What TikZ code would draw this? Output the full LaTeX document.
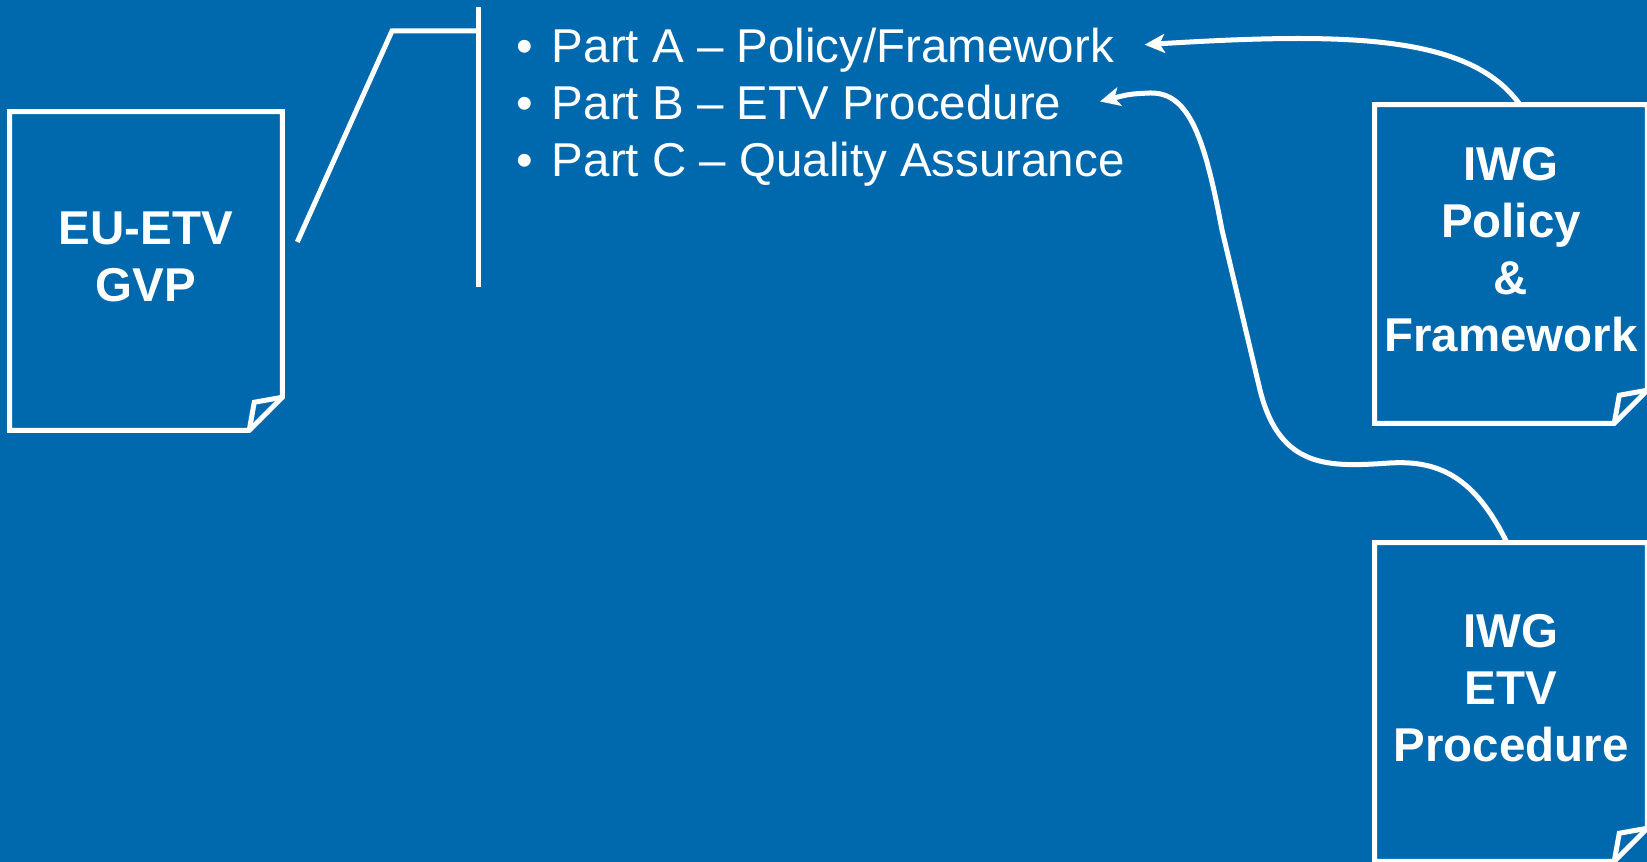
\documentclass[tikz,border=0pt]{standalone}
\usepackage{fontspec}
\setmainfont{Liberation Sans}
\usetikzlibrary{arrows.meta}
\definecolor{bluslide}{RGB}{0,104,172}

% contorno di un foglio con l'angolo in basso a destra piegato
\newcommand{\foglio}[1]{%
  \draw[bordo] (#1.north west) -- (#1.north east) -- ([yshift=\piega]#1.south east)
    -- ([xshift=-\piega]#1.south east) -- (#1.south west) -- cycle;
  \draw[bordo] ([xshift=-\piega]#1.south east) -- ([xshift=-0.28cm,yshift=0.28cm]#1.south east)
    -- ([yshift=\piega]#1.south east);
}

\begin{document}
\begin{tikzpicture}[x=0.01cm, y=-0.01cm,
    >={Stealth[length=0.2cm, width=0.19cm, inset=0.05cm]},
    bordo/.style={draw=white, line width=0.05cm},
    pagina/.style={minimum width=2.71cm, minimum height=3.17cm, inner sep=0pt},
    titolo/.style={text=white, align=center, font=\fontsize{13.5}{16.2}\selectfont\bfseries},
    voce/.style={text=white, anchor=base west, inner sep=0pt, text height=0.36cm,
      text depth=0pt, font=\fontsize{13.5}{16.2}\selectfont},
    freccia/.style={->, draw=white, line width=0.05cm}]
    % --- Impostazioni ---
    \def\piega{0.33cm} % lato dell'angolo piegato
    \def\salto{0.14cm} % il testo sta un po' sopra il centro del foglio

    % --- Sfondo ---
    \useasboundingbox (0,0) rectangle (1647,862);
    \fill[bluslide] (0,0) rectangle (1647,862);

    % --- Fogli ---
    \node[pagina] (gvp) at (146,271) {};
    \node[pagina] (iwgpol) at (1511,264) {};
    \node[pagina] (iwgproc) at (1511,702) {};
    \foglio{gvp}
    \foglio{iwgpol}
    \foglio{iwgproc}

    % --- Testi dei fogli ---
    \node[titolo] (gvp-t) at ([yshift=\salto]gvp.center) {EU-ETV\\GVP};
    \node[titolo] (iwgpol-t) at ([yshift=\salto]iwgpol.center) {IWG\\Policy\\\&\\Framework};
    \node[titolo] (iwgproc-t) at ([yshift=\salto]iwgproc.center) {IWG\\ETV\\Procedure};

    % --- Elenco delle parti ---
    \node[voce] (partA) at (516,62.7) {\makebox[0.353cm][l]{•}Part A -- Policy/Framework};
    \node[voce] (partB) at (516,119.5) {\makebox[0.353cm][l]{•}Part B -- ETV Procedure};
    \node[voce] (partC) at (516,176.5) {\makebox[0.353cm][l]{•}Part C -- Quality Assurance};

    % --- Richiamo dal foglio all'elenco ---
    \coordinate (attacco) at ([xshift=0.15cm, yshift=0.29cm]gvp.east);
    \coordinate (gomito) at (392,31);
    \coordinate (staffa) at (478,31);
    \coordinate (staffa-su) at (478,7);
    \coordinate (staffa-giu) at (478,287);
    \draw[bordo] (attacco) -- (gomito) -- (staffa);
    \draw[bordo] (staffa-su) -- (staffa-giu);

    % --- Frecce ---
    \coordinate (puntaA) at ([xshift=0.3cm]partA.east);
    \coordinate (puntaB) at ([xshift=0.38cm]partB.east);
    \draw[freccia] ([xshift=0.09cm]iwgpol.north) .. controls (1470,35) and (1350,32) .. (puntaA);
    \draw[freccia] ([xshift=-0.04cm]iwgproc.north) .. controls (1475,478) and (1440,460) .. (1390,463)
      .. controls (1330,467) and (1280,470) .. (1260,390) -- (1222,230)
      .. controls (1205,140) and (1190,92) .. (1150,93) .. controls (1130,94) .. (puntaB);
\end{tikzpicture}
\end{document}
